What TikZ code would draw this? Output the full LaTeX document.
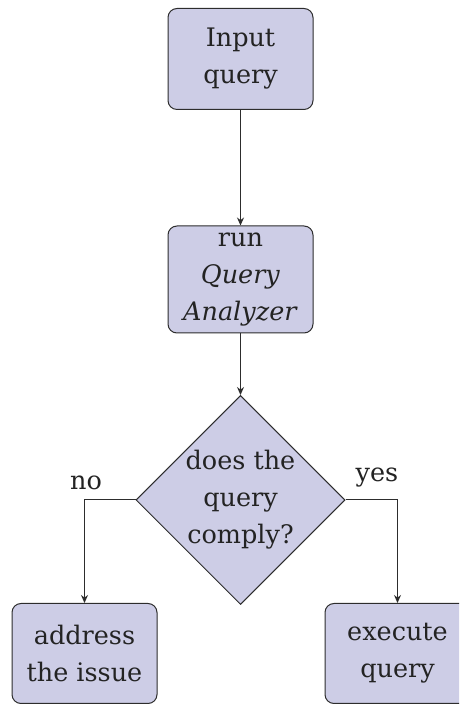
\documentclass[tikz,border=0pt]{standalone}
\usepackage{fontspec}
\setmainfont{DejaVu Serif}
\usetikzlibrary{shapes.geometric,arrows.meta}
\definecolor{boxfill}{RGB}{205,205,230}
\definecolor{boxline}{RGB}{45,45,45}
\definecolor{textgray}{RGB}{35,35,35}
\tikzset{
  x=1pt, y=1pt,
  every node/.style={font=\fontsize{25.5}{37}\selectfont, text=textgray},
  stepbox/.style={draw=boxline, fill=boxfill, line width=1pt, rounded corners=9pt,
    minimum width=145pt, minimum height=101pt, align=center, inner sep=2pt},
  decision/.style={draw=boxline, fill=boxfill, line width=1pt, diamond, aspect=1,
    minimum width=209pt, minimum height=209pt, inner sep=0pt, align=center},
  flow/.style={draw=boxline, line width=1pt, -{Stealth[length=8pt,width=7pt]}},
}
\begin{document}
\begin{tikzpicture}
\useasboundingbox (0,0) rectangle (459,704);
\clip (0,0) rectangle (459,704);
\node[stepbox] (input) at (240.5,645) {Input\\query};
\node[stepbox, minimum height=107pt] (analyze) at (240.5,424.5) {run\\\textit{Query}\\\textit{Analyzer}};
\node[decision] (check) at (240.5,204) {does the\\query\\comply?};
\node[stepbox, minimum height=100pt] (address) at (84.5,50.5) {address\\the issue};
\node[stepbox, minimum height=100pt] (execute) at (397.5,50.5) {execute\\query};
\draw[flow] (input) -- (analyze);
\draw[flow] (analyze) -- (check);
\draw[flow] (check.west) -| (address.north);
\draw[flow] (check.east) -| (execute.north);
\node (no) at (86,221) {no};
\node (yes) at (377,226) {yes};
\end{tikzpicture}
\end{document}
